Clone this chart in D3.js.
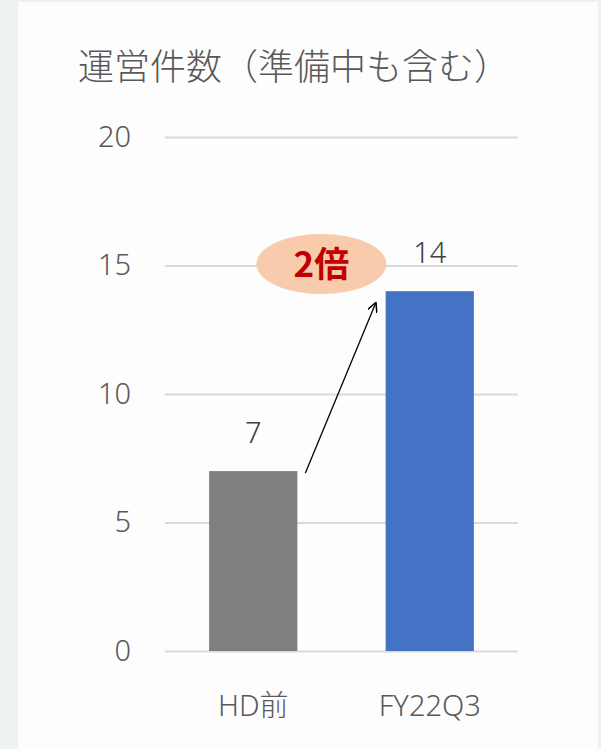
<!DOCTYPE html>
<html><head><meta charset="utf-8">
<script src="https://cdn.jsdelivr.net/npm/d3@7"></script>
<style>body{margin:0;background:#eef2f2;}svg{display:block;}</style>
</head><body>
<svg id="c" width="601" height="749"></svg>
<script>
const categories = ["HD前", "FY22Q3"];
const values = [7, 14];
const barColors = ["#7f7f7f", "#4472c4"];
const yTicks = [0, 5, 10, 15, 20];
const title = "運営件数（準備中も含む）";
const badge = "2倍";

const svg = d3.select("#c");
const font = "'Noto Sans','Noto Sans CJK JP',sans-serif";
const cjk = "'Noto Sans CJK JP','Noto Sans',sans-serif";
svg.append("rect").attr("x",18).attr("y",2).attr("width",580).attr("height",747).attr("fill","#fdfdfd");

const x = d3.scaleBand().domain(categories).range([165,518]).paddingInner(0.5).paddingOuter(0.25);
const y = d3.scaleLinear().domain([0,20]).range([651,137]);

svg.append("text").attr("x",294).attr("y",80).attr("text-anchor","middle")
  .attr("font-family",cjk).attr("font-size",36).attr("font-weight",300).attr("fill","#595959").text(title);

const axis = d3.axisLeft(y).tickValues(yTicks).tickSize(-(518-165)).tickPadding(34);
const g = svg.append("g").attr("transform","translate(165,0)").call(axis);
g.select(".domain").remove();
g.selectAll(".tick line").attr("stroke","#d9d9d9").attr("stroke-width",2);
g.selectAll(".tick text").attr("font-family",font).attr("font-size",29).attr("font-weight",300).attr("fill","#595959");

svg.selectAll(".bar").data(values).enter().append("rect")
  .attr("x",(d,i)=>x(categories[i])).attr("width",x.bandwidth())
  .attr("y",d=>y(d)).attr("height",d=>y(0)-y(d))
  .attr("fill",(d,i)=>barColors[i]);

svg.selectAll(".vl").data(values).enter().append("text")
  .attr("x",(d,i)=>x(categories[i])+x.bandwidth()/2).attr("y",d=>y(d)-28)
  .attr("text-anchor","middle").attr("font-family",font).attr("font-size",29).attr("font-weight",300).attr("fill","#404040")
  .text(d=>d);

const xa = d3.axisBottom(x).tickSize(0).tickPadding(0);
const gx = svg.append("g").attr("transform","translate(0,651)").call(xa);
gx.select(".domain").remove();
gx.selectAll(".tick text").attr("dy",null).attr("y",65).attr("font-family",font).attr("font-size",29).attr("font-weight",300).attr("fill","#595959");

// arrow
const defs = svg.append("defs");
defs.append("marker").attr("id","ah").attr("viewBox","0 0 10 10").attr("refX",9).attr("refY",5)
  .attr("markerWidth",10).attr("markerHeight",10).attr("orient","auto").attr("markerUnits","userSpaceOnUse")
  .append("path").attr("d","M0,0 L10,5 L0,10").attr("fill","none").attr("stroke","#000").attr("stroke-width",1.5);
const x0 = x(categories[0])+x.bandwidth(), x1 = x(categories[1]);
svg.append("line").attr("x1",x0+8).attr("y1",y(values[0])+2).attr("x2",x1-10).attr("y2",y(values[1])+12)
  .attr("stroke","#000").attr("stroke-width",1.3).attr("marker-end","url(#ah)");

// badge
const cx = x0+24, cy = y(15)-1.5;
svg.append("ellipse").attr("cx",cx).attr("cy",cy).attr("rx",65).attr("ry",30).attr("fill","#f8cbad");
svg.append("text").attr("x",cx).attr("y",cy+13).attr("text-anchor","middle").attr("font-family",cjk)
  .attr("font-weight","bold").attr("font-size",35).attr("fill","#c00000").text(badge);
</script>
</body></html>
